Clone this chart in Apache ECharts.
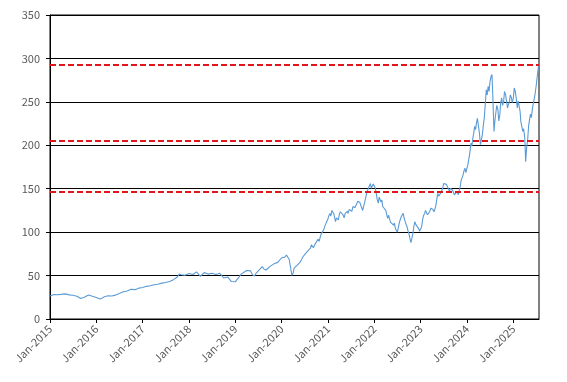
<!DOCTYPE html>
<html><head><meta charset="utf-8">
<script src="https://cdn.jsdelivr.net/npm/echarts@6/dist/echarts.min.js"></script>
<style>html,body{margin:0;padding:0;background:#fff}#c{width:567px;height:382px}</style>
</head><body><div id="c"></div>
<script>
// 2015-2019: values on the 1st and 16th of each month
const price2015 = [26.5,27.8,28.2,27.5,28.0,28.6,28.3,27.6,28.9,28.4,27.8,28.6,27.4,26.8,26.2,25.0,23.5,24.6,25.4,26.8,27.6,27.1,26.2,25.3];
const price2016 = [24.8,23.6,22.9,24.2,25.3,26.1,26.8,25.9,26.4,25.7,27.5,28.3,29.4,30.6,31.4,31.0,32.3,33.1,34.2,33.4,33.8,34.6,35.5,36.2];
const price2017 = [36.2,37.0,37.6,37.3,38.2,38.8,39.4,39.0,40.1,40.7,41.3,41.0,42.1,42.8,43.2,44.6,45.3,46.1,48.4,51.8,50.9,51.6,50.4,51.2];
const price2018 = [52.4,53.8,51.2,52.6,54.3,52.1,49.2,50.6,53.4,52.2,51.7,53.0,52.6,53.8,51.3,52.0,52.6,51.1,47.2,46.3,48.4,46.0,43.1,41.4];
const price2019 = [42.8,45.9,48.6,51.7,52.4,54.3,55.8,57.2,55.4,50.8,49.5,53.2,54.8,57.6,60.4,57.3,56.4,57.8,60.6,62.4,63.5,62.8,65.2,66.4];
// 2020-2024: values on the 1st, 8th, 16th and 23rd of each month
const price2020 = [70.5,72.0,72.8,71.0, 71.5,73.5,74.6,72.0, 68.5,62.0,55.0,50.3, 53.0,58.6,60.5,58.2, 61.8,60.5,63.5,64.8, 66.5,69.0,71.4,70.2,
                   73.0,75.5,76.5,74.8, 79.4,80.8,82.0,85.5, 87.5,82.0,84.8,83.0, 88.8,90.5,92.0,89.5, 94.6,98.0,99.5,101.5, 104.0,107.5,110.0,112.5];
const price2021 = [115.5,119.0,121.6,118.5, 125.0,123.0,121.0,116.0, 112.0,116.5,118.5,114.0, 121.0,123.5,125.0,122.0, 119.5,116.5,121.6,123.0, 124.0,121.5,126.0,124.5,
                   127.0,124.0,129.5,131.0, 128.0,130.5,133.0,135.5, 137.0,134.5,131.0,128.0, 125.0,129.5,134.0,138.5, 144.7,148.0,150.0,153.5, 156.0,150.5,152.0,155.5];
const price2022 = [157.0,151.0,144.7,138.0, 133.5,140.5,140.0,134.5, 137.0,129.5,131.0,128.0, 125.0,120.5,115.8,119.5, 118.0,111.5,113.8,110.5, 108.0,110.5,104.0,102.5,
                   100.0,104.5,110.0,114.0, 117.7,119.5,121.6,116.5, 112.0,109.0,106.0,101.5, 98.0,93.0,88.0,92.5, 99.0,106.5,112.0,109.0, 110.0,107.5,104.0,101.0];
const price2023 = [100.0,106.0,114.0,119.0, 121.6,125.0,123.5,120.0, 119.0,122.5,125.0,127.5, 129.0,126.0,123.5,126.5, 131.0,138.0,144.7,141.5, 141.0,145.0,146.6,150.5,
                   156.0,154.5,158.0,155.0, 152.0,149.5,147.0,150.5, 152.0,148.5,146.0,143.0, 140.8,144.5,147.0,143.0, 144.7,152.0,160.0,162.5, 166.0,170.5,173.6,168.5];
const price2024 = [170.0,178.0,185.0,191.0, 202.5,199.0,208.0,214.0, 221.7,218.0,226.0,231.0, 231.0,214.0,200.6,206.0, 212.0,222.0,231.0,245.0, 264.0,258.0,268.0,262.0,
                   273.7,279.0,281.5,256.0, 216.0,228.0,238.0,246.0, 241.0,228.0,235.0,249.0, 254.6,246.0,250.0,262.0, 258.0,251.0,243.0,247.0, 250.6,258.0,255.0,249.0];
const dates2025 = ['2025-01-01','2025-01-08','2025-01-16','2025-01-23','2025-02-01','2025-02-08','2025-02-16','2025-02-23',
                   '2025-03-01','2025-03-08','2025-03-16','2025-03-23','2025-04-01','2025-04-08','2025-04-16','2025-04-23',
                   '2025-05-01','2025-05-08','2025-05-16','2025-05-23','2025-06-01','2025-06-08','2025-06-16','2025-06-23',
                   '2025-07-01','2025-07-08','2025-07-16','2025-07-22'];
const price2025 = [254.6,266.0,262.0,255.0, 243.0,251.0,250.0,239.0, 227.5,222.0,216.0,219.0, 208.0,181.0,198.0,205.0,
                   222.0,229.0,236.0,232.0, 243.0,249.0,254.6,261.0, 270.0,279.0,289.0,292.5];
const levels = [292.5, 204.75, 146.25];
const tickYears = [2015,2016,2017,2018,2019,2020,2021,2022,2023,2024,2025];

function frac(d){
  const t = new Date(d + 'T00:00:00Z').getTime();
  const y = new Date(t).getUTCFullYear();
  const a = Date.UTC(y,0,1), b = Date.UTC(y+1,0,1);
  return y + (t - a) / (b - a);
}
const yearly = [price2015,price2016,price2017,price2018,price2019,price2020,price2021,price2022,price2023,price2024];
const data = [];
yearly.forEach((arr, yi) => {
  const y = 2015 + yi;
  const per = arr.length / 12;
  const days = per === 4 ? [1,8,16,23] : [1,16];
  arr.forEach((v, i) => {
    const m = Math.floor(i / per) + 1, day = days[i % per];
    const d = y + '-' + String(m).padStart(2,'0') + '-' + String(day).padStart(2,'0');
    data.push([frac(d), v]);
  });
});
dates2025.forEach((d, i) => data.push([frac(d), price2025[i]]));
const xMax = data[data.length-1][0];

const font = "'Noto Sans CJK JP', 'Noto Sans', sans-serif";
const chart = echarts.init(document.getElementById('c'), null, {renderer:'canvas'});
chart.setOption({
  animation: false,
  backgroundColor: '#fff',
  grid: {left: 50, right: 28, top: 15, bottom: 63, show: true, borderColor: '#000', borderWidth: 1, backgroundColor: 'transparent'},
  xAxis: {
    type: 'value', min: 2015, max: xMax, interval: 1,
    axisLine: {show: true, lineStyle: {color: '#000', width: 1}},
    axisTick: {show: true, length: 4, lineStyle: {color: '#000'}, customValues: tickYears},
    splitLine: {show: false},
    axisLabel: {customValues: tickYears, rotate: 45, color: '#595959', fontSize: 11, fontFamily: font, margin: 8,
      formatter: v => 'Jan-' + Math.round(v)}
  },
  yAxis: {
    type: 'value', min: 0, max: 350, interval: 50,
    axisLine: {show: true, lineStyle: {color: '#000', width: 1}},
    axisTick: {show: true, length: 4, lineStyle: {color: '#000'}},
    splitLine: {show: true, lineStyle: {color: '#000', width: 1}},
    axisLabel: {color: '#595959', fontSize: 11, fontFamily: font, margin: 10}
  },
  series: [{
    type: 'line', data: data, showSymbol: false, symbol: 'none',
    lineStyle: {color: '#5b9bd5', width: 1.1},
    markLine: {
      silent: true, symbol: ['none','none'], label: {show: false},
      lineStyle: {color: '#e0161b', width: 2, type: [6,3]},
      data: levels.map(v => ({yAxis: v}))
    }
  }]
});
</script></body></html>
